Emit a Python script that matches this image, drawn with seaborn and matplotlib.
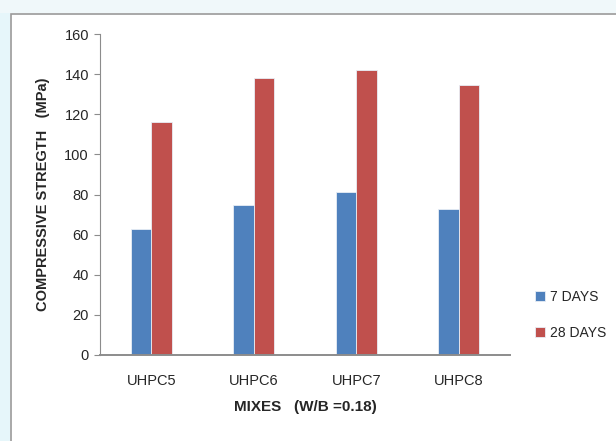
import matplotlib
matplotlib.use("Agg")
import matplotlib.pyplot as plt
import seaborn as sns
import pandas as pd
from matplotlib.patches import Rectangle

mixes = ["UHPC5", "UHPC6", "UHPC7", "UHPC8"]
days_7 = [63, 75, 81, 73]
days_28 = [116, 138, 142, 134.5]
series = ["7 DAYS", "28 DAYS"]
colors = ["#4F81BD", "#C0504D"]

df = pd.DataFrame({
    "mix": mixes * 2,
    "strength": days_7 + days_28,
    "age": [series[0]] * 4 + [series[1]] * 4,
})

sns.set_style("white")
plt.rcParams["font.family"] = ["Liberation Sans", "DejaVu Sans"]

fig = plt.figure(figsize=(6.16, 4.41), dpi=100)
fig.patch.set_facecolor("white")

# light background strips outside the chart frame
fig.patches.append(Rectangle((0, 0), 10 / 616, 1, transform=fig.transFigure,
                             facecolor="#e6f6fa", edgecolor="none", zorder=0))
fig.patches.append(Rectangle((0, 1 - 13 / 441), 1, 13 / 441, transform=fig.transFigure,
                             facecolor="#f0f8fa", edgecolor="none", zorder=0))
# chart frame
fig.patches.append(Rectangle((11 / 616, -0.01), 1.0, 1 - 13 / 441 + 0.01 - 1 / 441,
                             transform=fig.transFigure, facecolor="white",
                             edgecolor="#9a9a9a", linewidth=1.2, zorder=1))

ax = fig.add_axes([100 / 616, (441 - 355) / 441, 410 / 616, (355 - 34) / 441])
ax.set_zorder(2)
ax.patch.set_alpha(0)

sns.barplot(data=df, x="mix", y="strength", hue="age", palette=colors,
            saturation=1, width=0.4, gap=0, edgecolor="#e8eef6", linewidth=0.6, ax=ax)

ax.set_ylim(0, 160)
ax.set_yticks(range(0, 161, 20))
ax.set_xlim(-0.5, 3.5)
for s in ["top", "right"]:
    ax.spines[s].set_visible(False)
ax.spines["left"].set_color("#8c8c8c")
ax.spines["bottom"].set_color("#8c8c8c")
ax.spines["bottom"].set_linewidth(1.4)
ax.tick_params(axis="y", left=True, length=4, color="#8c8c8c", labelsize=10.5, pad=4)
ax.tick_params(axis="x", bottom=False, labelsize=10.5, pad=10)

ax.set_xlabel("MIXES   (W/B =0.18)", fontsize=11, fontweight="bold", labelpad=9)
ax.set_ylabel("COMPRESSIVE STREGTH   (MPa)", fontsize=10.5, fontweight="bold", labelpad=10)

leg = ax.legend(loc="center left", bbox_to_anchor=(1.03, 0.125), frameon=False,
                fontsize=10, handlelength=0.7, handleheight=0.7,
                labelspacing=1.6, handletextpad=0.4)

fig.savefig("out.png", dpi=100)
